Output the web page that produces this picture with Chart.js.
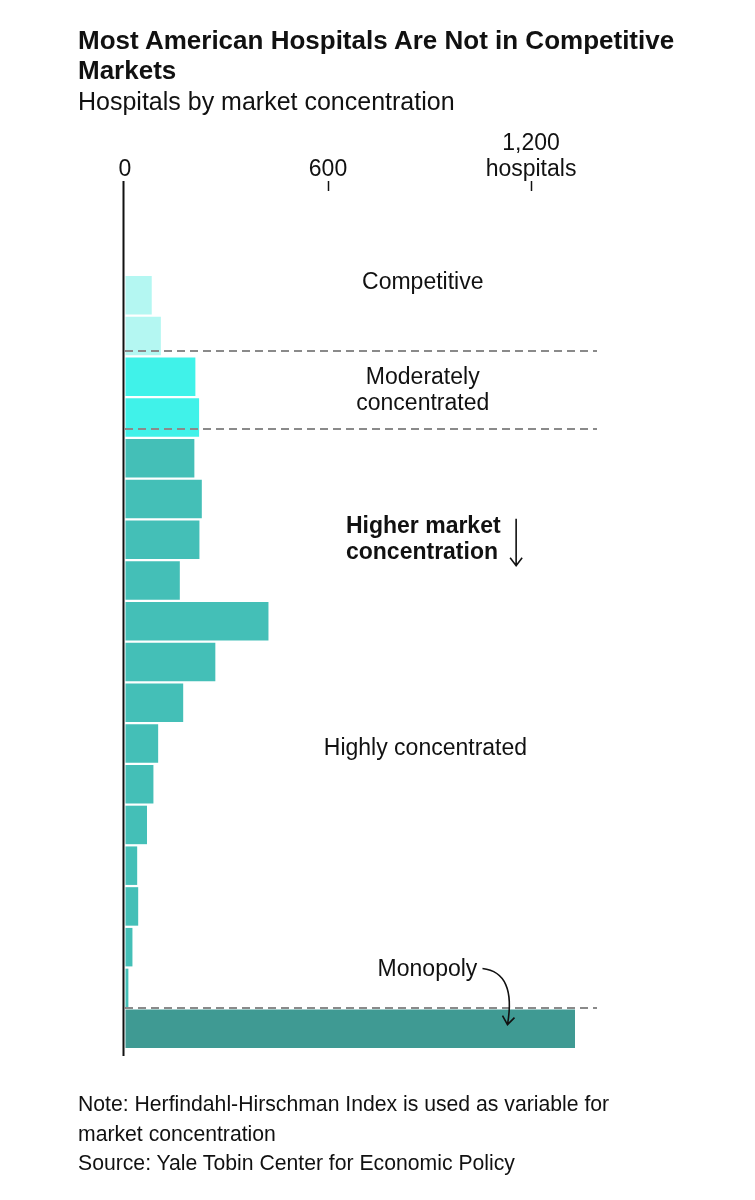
<!DOCTYPE html>
<html>
<head>
<meta charset="utf-8">
<script src="https://cdn.jsdelivr.net/npm/chart.js@4"></script>
<style>
  html, body { margin: 0; padding: 0; background: #fff; }
  body { width: 755px; height: 1200px; position: relative; overflow: hidden;
         font-family: "Liberation Sans", Arial, sans-serif; color: #111; }
  #title { position: absolute; left: 78px; top: 25px; width: 620px;
           font-weight: bold; font-size: 26px; line-height: 30px; letter-spacing: 0; }
  #subtitle { position: absolute; left: 78px; top: 87px; font-size: 25px; line-height: 28px; }
  #chartBox { position: absolute; left: 0; top: 0; width: 755px; height: 1200px; }
  #notes { position: absolute; left: 78px; top: 1089px; font-size: 21.2px; line-height: 29.5px; }
</style>
</head>
<body>
<div id="chartBox"><canvas id="hhiChart"></canvas></div>
<div id="title">Most American Hospitals Are Not in Competitive Markets</div>
<div id="subtitle">Hospitals by market concentration</div>
<div id="notes">Note: Herfindahl-Hirschman Index is used as variable for<br>market concentration<br>Source: Yale Tobin Center for Economic Policy</div>

<script>
// market concentration bins, top = least concentrated
const categories = [
  "Competitive 1", "Competitive 2",
  "Moderate 1", "Moderate 2",
  "High 1", "High 2", "High 3", "High 4", "High 5", "High 6", "High 7",
  "High 8", "High 9", "High 10", "High 11", "High 12", "High 13", "High 14",
  "Monopoly"
];

// number of hospitals per bin
const hospitals = [
  79, 106,
  208, 219,
  205, 227, 220, 162, 424, 267, 172, 98, 84, 65, 36, 39, 22, 10,
  1330
];

const axisTicks = [0, 600, 1200];
const axisLabels = ["0", "600", ["1,200", "hospitals"]];

// colour per group
const groupColors = {
  competitive: "#b4f7f2",
  moderate: "#40f2e9",
  high: "#44bfb7",
  monopoly: "#3f9a93"
};

function barColor(i) {
  if (i < 2) return groupColors.competitive;
  if (i < 4) return groupColors.moderate;
  if (i < categories.length - 1) return groupColors.high;
  return groupColors.monopoly;
}

/*
  Annotation plugin: group labels, dashed dividers, arrows.
  Positions are given in scale units (category index / hospital count)
*/
const dividers = [1.36, 3.27, 17.5];

const notes = [
  { lines: ["Competitive"], at: -0.32, value: 880, align: "center" },
  { lines: ["Moderately", "concentrated"], at: 2.34, value: 880, align: "center" },
  { lines: ["Higher market", "concentration"], at: 6.0, value: 653, align: "left", bold: true },
  { lines: ["Highly concentrated"], at: 11.13, value: 888, align: "center" },
  { lines: ["Monopoly"], at: 16.55, value: 894, align: "center" }
];

const TICK_SPACE = 90;

const annotationPlugin = {
  id: "annotations",
  afterDatasetsDraw(chart) {
    const ctx = chart.ctx;
    const x = chart.scales.x;
    const y = chart.scales.y;
    const area = chart.chartArea;

    ctx.save();

    // zero line running up to the axis
    const tickTop = x.bottom - TICK_SPACE - 4;
    const x0 = x.getPixelForValue(0) - 1.5;
    ctx.strokeStyle = "#111";
    ctx.lineWidth = 2;
    ctx.beginPath();
    ctx.moveTo(x0, tickTop);
    ctx.lineTo(x0, area.bottom + 7);
    ctx.stroke();

    // short ticks under the labels
    ctx.lineWidth = 1.5;
    axisTicks.slice(1).forEach(v => {
      const px = Math.round(x.getPixelForValue(v)) + 0.5;
      ctx.beginPath();
      ctx.moveTo(px, tickTop);
      ctx.lineTo(px, tickTop + 10);
      ctx.stroke();
    });

    // dashed group dividers
    ctx.strokeStyle = "#8a8a8a";
    ctx.lineWidth = 2;
    ctx.setLineDash([8, 5]);
    dividers.forEach(d => {
      const py = Math.round(y.getPixelForValue(d));
      ctx.beginPath();
      ctx.moveTo(area.left, py);
      ctx.lineTo(area.right, py);
      ctx.stroke();
    });
    ctx.setLineDash([]);

    // labels
    ctx.fillStyle = "#111";
    ctx.textBaseline = "middle";
    const lh = 26;
    notes.forEach(n => {
      ctx.font = (n.bold ? "bold " : "") + "23px 'Liberation Sans', Arial, sans-serif";
      ctx.textAlign = n.align;
      const cx = x.getPixelForValue(n.value);
      const cy = y.getPixelForValue(n.at);
      const top = cy - (n.lines.length - 1) * lh / 2;
      n.lines.forEach((line, k) => ctx.fillText(line, cx, top + k * lh));
    });

    ctx.strokeStyle = "#111";
    ctx.lineWidth = 1.6;

    // straight down arrow beside "Higher market concentration"
    const ax = x.getPixelForValue(1156);
    const ay = y.getPixelForValue(notes[2].at);
    ctx.beginPath();
    ctx.moveTo(ax, ay - 21);
    ctx.lineTo(ax, ay + 26);
    ctx.moveTo(ax - 6, ay + 18);
    ctx.lineTo(ax, ay + 26);
    ctx.lineTo(ax + 6, ay + 18);
    ctx.stroke();

    // curved arrow from "Monopoly" to the bar
    const mx = x.getPixelForValue(notes[4].value) + 55;
    const my = y.getPixelForValue(notes[4].at) - 1;
    const ex = mx + 25, ey = my + 56;
    ctx.beginPath();
    ctx.moveTo(mx, my);
    ctx.quadraticCurveTo(mx + 34, my + 4, ex, ey);
    ctx.moveTo(ex - 5, ey - 9);
    ctx.lineTo(ex, ey);
    ctx.lineTo(ex + 7, ey - 7);
    ctx.stroke();

    ctx.restore();
  }
};

new Chart(document.getElementById("hhiChart"), {
  type: "bar",
  data: {
    labels: categories,
    datasets: [{
      data: hospitals,
      backgroundColor: hospitals.map((v, i) => barColor(i)),
      borderWidth: 0,
      categoryPercentage: 1,
      barPercentage: 0.945
    }]
  },
  options: {
    indexAxis: "y",
    responsive: true,
    maintainAspectRatio: false,
    animation: false,
    layout: {
      padding: { top: 129, left: 125, right: 158, bottom: 151 }
    },
    plugins: {
      legend: { display: false },
      tooltip: { enabled: false }
    },
    scales: {
      x: {
        position: "top",
        min: 0,
        max: 1395,
        afterBuildTicks: function(scale) {
          scale.ticks = axisTicks.map(v => ({ value: v }));
        },
        ticks: {
          color: "#111",
          padding: 2,
          maxRotation: 0,
          autoSkip: false,
          font: { family: "'Liberation Sans', Arial, sans-serif", size: 23, lineHeight: 1.13 },
          callback: function(value) {
            return axisLabels[axisTicks.indexOf(value)];
          }
        },
        grid: {
          drawOnChartArea: false,
          tickLength: TICK_SPACE,
          tickColor: "rgba(0,0,0,0)"
        },
        border: { display: false }
      },
      y: {
        display: false,
        offset: true
      }
    }
  },
  plugins: [annotationPlugin]
});
</script>
</body>
</html>
